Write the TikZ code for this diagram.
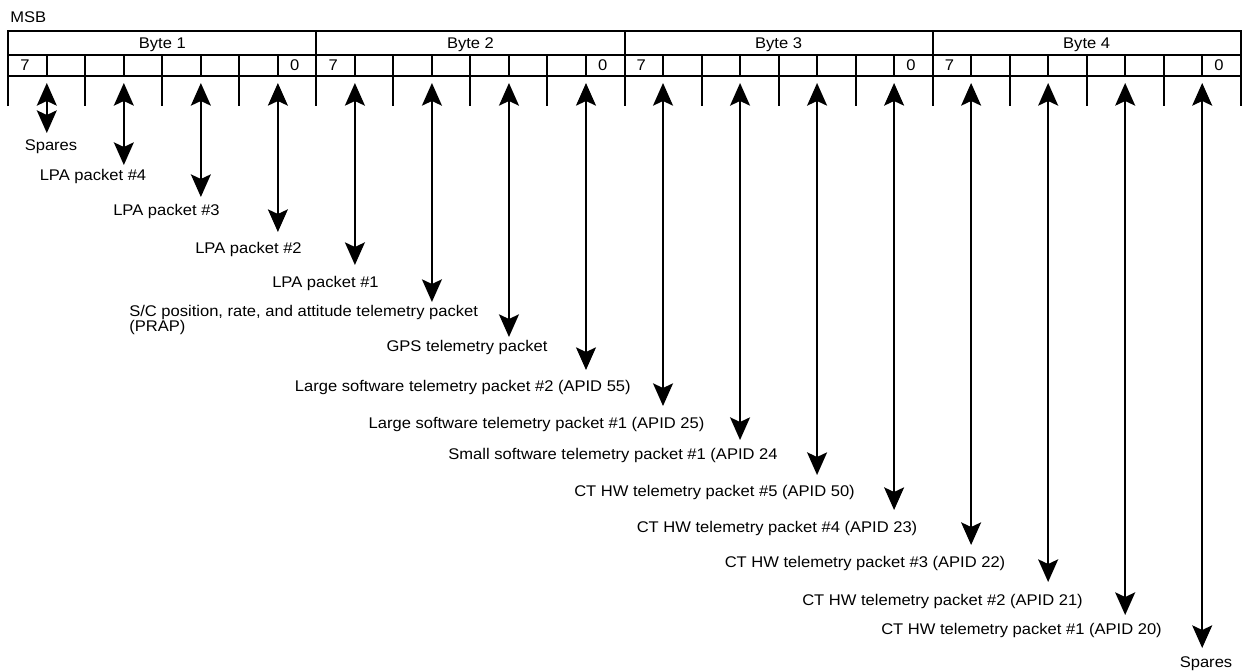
\documentclass[tikz,border=0pt]{standalone}
\usepackage{fontspec}
\setmainfont{Liberation Sans}[FakeStretch=1.07]
\usetikzlibrary{arrows.meta}
\begin{document}
\begin{tikzpicture}[x=0.75pt,y=-0.75pt,
  tbl/.style={line width=1.5pt},
  arr/.style={line width=1.2pt,
    {Stealth[length=17pt,width=15pt,inset=3.5pt]}-{Stealth[length=17pt,width=15pt,inset=3.5pt]}},
  lbl/.style={inner sep=0pt, anchor=base, font=\fontsize{11.6}{10.5}\selectfont},
  ]
\useasboundingbox (0,0) rectangle (1244,671);
% table frame
\draw[tbl] (8.3,106) -- (8.3,30.7) -- (1240.7,30.7) -- (1240.7,106);
\draw[tbl] (8.3,55) -- (1240.7,55);
\draw[tbl] (8.3,75.7) -- (1240.7,75.7);
\foreach \i in {1,2,3} {\draw[tbl] ({8.3+308.1*\i},30.7) -- ({8.3+308.1*\i},106);}
\foreach \j in {1,...,31} {\draw[tbl] ({8.3+38.5125*\j},55) -- ({8.3+38.5125*\j},75.7);}
\foreach \j in {2,4,...,30} {\draw[tbl] ({8.3+38.5125*\j},75.7) -- ({8.3+38.5125*\j},106);}
% header texts
\node[lbl, anchor=base west] (msb) at (10,22.5) {MSB};
\foreach \i in {1,2,3,4} {
  \node[lbl] (byte\i) at ({8.3+308.1*(\i-0.5)},48.5) {Byte \i};
  \node[lbl] (hi\i) at ({8.3+308.1*(\i-1)+19.25-2.5},70.5) {7};
  \node[lbl] (lo\i) at ({8.3+308.1*\i-19.25-2.5},70.5) {0};
}
% arrows
\foreach \k/\ty in {1/133,2/165,3/197,4/232,5/265,6/302,7/337,8/370,9/406,10/440,11/475,12/510,13/545,14/582,15/615,16/648} {
  \coordinate (t\k) at ({8.3+38.5125*(2*\k-1)},83);
  \coordinate (b\k) at ({8.3+38.5125*(2*\k-1)},\ty);
  \draw[arr] (t\k) -- (b\k);
}
% labels
\node[lbl] (l1) at (51,150.5) {Spares};
\node[lbl] (l2) at (93,180.5) {LPA packet \#4};
\node[lbl] (l3) at (166.5,215.5) {LPA packet \#3};
\node[lbl] (l4) at (248.5,253.5) {LPA packet \#2};
\node[lbl] (l5) at (325.5,287.5) {LPA packet \#1};
\node[lbl, anchor=west, align=left] (l6) at (129,320) {S/C position, rate, and attitude telemetry packet\\(PRAP)};
\node[lbl] (l7) at (467,351.5) {GPS telemetry packet};
\node[lbl, anchor=base east] (l8) at (631,391.5) {Large software telemetry packet \#2 (APID 55)};
\node[lbl] (l9) at (536.5,428.5) {Large software telemetry packet \#1 (APID 25)};
\node[lbl] (l10) at (613,459.5) {Small software telemetry packet \#1 (APID 24};
\node[lbl] (l11) at (714.5,496.5) {CT HW telemetry packet \#5 (APID 50)};
\node[lbl] (l12) at (777,532.5) {CT HW telemetry packet \#4 (APID 23)};
\node[lbl] (l13) at (865,567.5) {CT HW telemetry packet \#3 (APID 22)};
\node[lbl] (l14) at (942.5,605.5) {CT HW telemetry packet \#2 (APID 21)};
\node[lbl] (l15) at (1021.5,634.5) {CT HW telemetry packet \#1 (APID 20)};
\node[lbl] (l16) at (1206,667.5) {Spares};
\end{tikzpicture}
\end{document}
